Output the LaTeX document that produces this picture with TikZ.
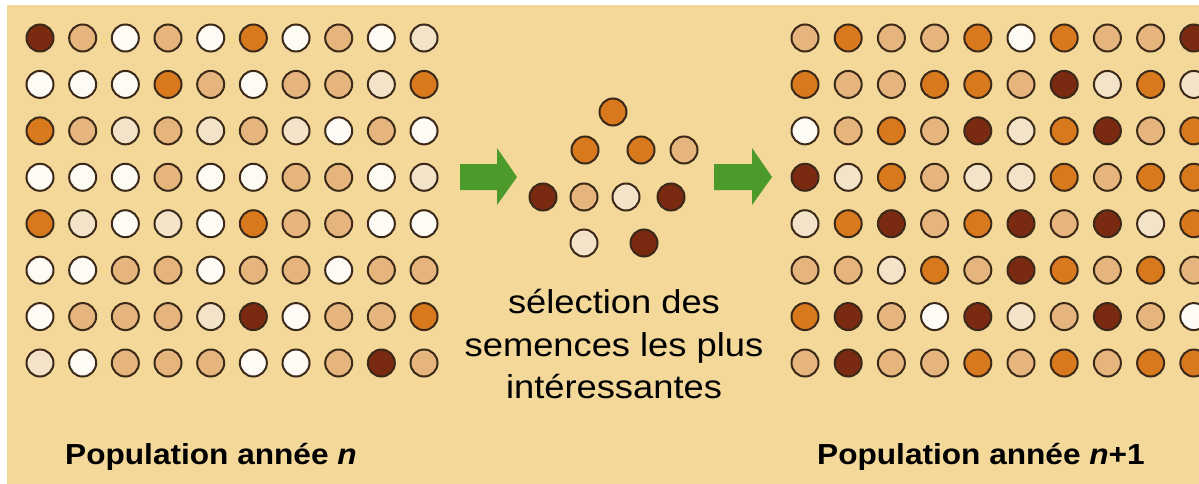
\documentclass[tikz,border=0pt]{standalone}
\usepackage{fontspec}
\setmainfont{Liberation Sans}
\newfontfamily\captionfont[FakeStretch=1.1]{Liberation Sans}
\newfontfamily\titlefont[FakeStretch=1.09]{Liberation Sans}

% seed colours
\definecolor{cD}{HTML}{7B2A12}
\definecolor{cO}{HTML}{D9791E}
\definecolor{cT}{HTML}{E6B57E}
\definecolor{cL}{HTML}{F3E3C8}
\definecolor{cW}{HTML}{FDFBF4}
\definecolor{seedline}{HTML}{3A2818}
\definecolor{paper}{HTML}{F3D89A}
\definecolor{arrowgreen}{HTML}{4C9A2A}

\tikzset{
  seed/.style={circle, draw=seedline, line width=2pt, minimum size=27pt, inner sep=0pt},
  caption/.style={font=\captionfont\fontsize{33}{40}\selectfont, inner sep=0pt, text=black},
  title/.style={font=\titlefont\bfseries\fontsize{29}{35}\selectfont, inner sep=0pt, text=black},
  bigarrow/.style={fill=arrowgreen},
}

\begin{document}
\begin{tikzpicture}[x=1pt, y=-1pt]
  \useasboundingbox (0,0) rectangle (1199,484);
  \clip (0,0) rectangle (1199,484);
  % paper
  \fill[white] (0,0) rectangle (1199,484);
  \fill[paper] (7,5) rectangle (1199,484);

  % population of year n
  \foreach \row [count=\r] in {
      {D,T,W,T,W,O,W,T,W,L},
      {W,W,W,O,T,W,T,T,L,O},
      {O,T,L,T,L,T,L,W,T,W},
      {W,W,W,T,W,W,T,T,W,L},
      {O,L,W,L,W,O,T,T,W,W},
      {W,W,T,T,W,T,T,W,T,T},
      {W,T,T,T,L,D,W,T,T,O},
      {L,W,T,T,T,W,W,T,D,T}} {
    \foreach \c [count=\k] in \row {
      \node[seed, fill=c\c] (L-\r-\k) at ({40+(\k-1)*42.67}, {38+(\r-1)*46.43}) {};
    }
  }

  % population of year n+1
  \foreach \row [count=\r] in {
      {T,O,T,T,O,W,O,T,T,D},
      {O,T,T,O,O,T,D,L,O,L},
      {W,T,O,T,D,L,O,D,T,O},
      {D,L,O,T,L,L,O,T,O,O},
      {L,O,D,T,O,D,T,D,L,O},
      {T,T,L,O,T,D,O,T,O,T},
      {O,D,T,W,D,L,T,D,T,W},
      {T,D,T,T,O,T,O,T,O,O}} {
    \foreach \c [count=\k] in \row {
      \node[seed, fill=c\c] (R-\r-\k) at ({805+(\k-1)*43.2}, {38+(\r-1)*46.43}) {};
    }
  }

  % selected seeds
  \node[seed, fill=cO] (S1) at (613,112) {};
  \node[seed, fill=cO] (S2) at (585,150) {};
  \node[seed, fill=cO] (S3) at (641,150) {};
  \node[seed, fill=cT] (S4) at (684,150) {};
  \node[seed, fill=cD] (S5) at (543,197) {};
  \node[seed, fill=cT] (S6) at (584,197) {};
  \node[seed, fill=cL] (S7) at (626,197) {};
  \node[seed, fill=cD] (S8) at (671,197) {};
  \node[seed, fill=cL] (S9) at (584,243) {};
  \node[seed, fill=cD] (S10) at (644,243) {};

  % green arrows
  \fill[bigarrow] (460,164) -- (497,164) -- (497,148) -- (517,177)
                  -- (497,205) -- (497,190) -- (460,190) -- cycle;
  \fill[bigarrow] (714,164) -- (752,164) -- (752,148) -- (772,177)
                  -- (752,205) -- (752,190) -- (714,190) -- cycle;

  % caption
  \node[caption, anchor=base] (sel1) at (614,313) {sélection des};
  \node[caption, anchor=base] (sel2) at (614,356) {semences les plus};
  \node[caption, anchor=base] (sel3) at (614,398) {intéressantes};

  % titles
  \node[title, anchor=base west] (popn) at (65,464) {Population année \textit{n}};
  \node[title, anchor=base west] (popn1) at (817,464) {Population année \textit{n}+1};
\end{tikzpicture}
\end{document}
